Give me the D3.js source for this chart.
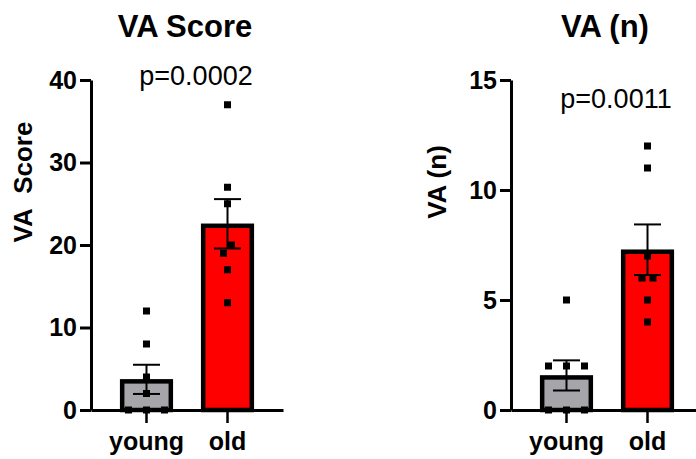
<!DOCTYPE html>
<html>
<head>
<meta charset="utf-8">
<script src="https://cdn.jsdelivr.net/npm/d3@7"></script>
<style>
  body { margin: 0; background: #fff; }
  svg text { font-family: "Liberation Sans", Arial, sans-serif; fill: #000; }
</style>
</head>
<body>
<div class="chart"></div>
<script>
// groups and values
var groups = ["young", "old"];
var groupColors = ["#a6a6aa", "#ff0000"];

var scoreYoung = [0, 0, 0, 2, 4, 8, 12];
var scoreOld = [13, 17, 19, 20, 25, 27, 37];
var scoreTicks = [0, 10, 20, 30, 40];

var countYoung = [0, 0, 0, 2, 2, 2, 5];
var countOld = [4, 5, 6, 6, 7, 11, 12];
var countTicks = [0, 5, 10, 15];

var titles = ["VA Score", "VA (n)"];
var yLabels = ["VA\u00a0\u00a0Score", "VA (n)"];
var pValues = ["p=0.0002", "p=0.0011"];

var width = 696, height = 459;

var svg = d3.select("div.chart")
    .append("svg")
    .attr("width", width)
    .attr("height", height);

// panel layout
var yTop = 80, yBottom = 410, axisLen = 192, marker = 7;

drawPanel({left: 91, values: [scoreYoung, scoreOld], ticks: scoreTicks,
    title: titles[0], yLabel: yLabels[0], yLabelX: 32, p: pValues[0], pY: 85});
drawPanel({left: 511, values: [countYoung, countOld], ticks: countTicks,
    title: titles[1], yLabel: yLabels[1], yLabelX: 446, p: pValues[1], pY: 108});

// spread points that sit on top of each other, roughly like prism does
function spread(vals, y) {
    var sorted = vals.slice().sort(d3.ascending);
    var out = [], cluster = [];
    function flush() {
        var n = cluster.length;
        var same = cluster.every(function (v) { return v === cluster[0]; });
        var step = n >= 3 ? 18 : (same ? 11 : 8);
        cluster.forEach(function (v, i) {
            out.push({v: v, dx: (i - (n - 1) / 2) * step});
        });
        cluster = [];
    }
    sorted.forEach(function (v) {
        if (cluster.length && Math.abs(y(v) - y(cluster[cluster.length - 1])) > marker + 2) flush();
        cluster.push(v);
    });
    flush();
    return out;
}

function drawPanel(cfg) {
    var g = svg.append("g").attr("transform", "translate(" + cfg.left + ",0)");

    var y = d3.scaleLinear()
        .domain(d3.extent(cfg.ticks))
        .range([yBottom, yTop]);

    var x = d3.scaleBand()
        .domain(groups)
        .range([0, axisLen])
        .paddingInner(0.35)
        .paddingOuter(0.36);

    var stats = groups.map(function (name, i) {
        var v = cfg.values[i];
        var m = d3.mean(v);
        var sem = d3.deviation(v) / Math.sqrt(v.length);
        return {name: name, mean: m, sem: sem, vals: v, color: groupColors[i]};
    });

    // bars
    g.selectAll("rect.bar")
        .data(stats)
        .enter().append("rect")
        .attr("class", "bar")
        .attr("x", function (d) { return x(d.name) + 2; })
        .attr("width", x.bandwidth() - 4)
        .attr("y", function (d) { return y(d.mean) + 2; })
        .attr("height", function (d) { return yBottom - y(d.mean) - 2; })
        .style("fill", function (d) { return d.color; })
        .style("stroke", "#000")
        .style("stroke-width", 4.5);

    // y axis
    var ya = g.append("g")
        .call(d3.axisLeft(y).tickValues(cfg.ticks).tickSize(11).tickSizeOuter(0).tickPadding(3));
    ya.select(".domain").style("stroke-width", 3).style("stroke", "#000");
    ya.selectAll(".tick line").style("stroke-width", 3).style("stroke", "#000");
    ya.selectAll("text").style("font-size", "25px").style("font-weight", "bold").style("fill", "#000");

    // x axis
    var xa = g.append("g")
        .attr("transform", "translate(0," + yBottom + ")")
        .call(d3.axisBottom(x).tickSize(13).tickSizeOuter(0).tickPadding(9));
    xa.select(".domain").style("stroke-width", 3).style("stroke", "#000");
    xa.selectAll(".tick line").style("stroke-width", 2.5).style("stroke", "#000");
    xa.selectAll("text").style("font-size", "25px").style("font-weight", "bold").style("fill", "#000");

    // error bars (mean +/- sem)
    var cx = function (d) { return x(d.name) + x.bandwidth() / 2; };
    var eb = g.selectAll("g.err")
        .data(stats)
        .enter().append("g")
        .attr("class", "err")
        .style("stroke", "#000")
        .style("stroke-width", 2);
    eb.append("line")
        .attr("x1", cx).attr("x2", cx)
        .attr("y1", function (d) { return y(d.mean - d.sem); })
        .attr("y2", function (d) { return y(d.mean + d.sem); });
    [-1, 1].forEach(function (s) {
        eb.append("line")
            .attr("x1", function (d) { return cx(d) - 13.5; })
            .attr("x2", function (d) { return cx(d) + 13.5; })
            .attr("y1", function (d) { return y(d.mean + s * d.sem); })
            .attr("y2", function (d) { return y(d.mean + s * d.sem); });
    });

    // points
    stats.forEach(function (d) {
        g.selectAll(null)
            .data(spread(d.vals, y))
            .enter().append("rect")
            .attr("x", function (p) { return cx(d) + p.dx - marker / 2; })
            .attr("y", function (p) { return y(p.v) - marker / 2; })
            .attr("width", marker)
            .attr("height", marker)
            .style("fill", "#000");
    });

    // titles
    g.append("text")
        .attr("x", axisLen / 2 - 2)
        .attr("y", 37)
        .attr("text-anchor", "middle")
        .style("font-size", "31px")
        .style("font-weight", "bold")
        .text(cfg.title);

    var mid = (cx(stats[0]) + cx(stats[1])) / 2;
    g.append("text")
        .attr("x", mid + 9)
        .attr("y", cfg.pY)
        .attr("text-anchor", "middle")
        .style("font-size", "27px")
        .text(cfg.p);

    svg.append("text")
        .attr("transform", "translate(" + cfg.yLabelX + ",182) rotate(-90)")
        .attr("text-anchor", "middle")
        .style("font-size", "26px")
        .style("font-weight", "bold")
        .text(cfg.yLabel);
}
</script>
</body>
</html>
